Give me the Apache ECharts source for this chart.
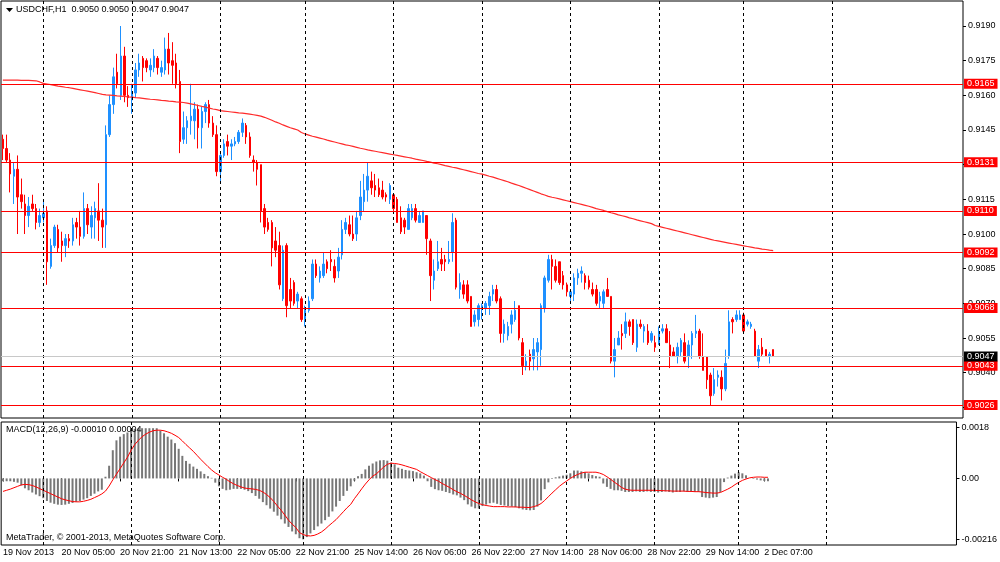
<!DOCTYPE html>
<html>
<head>
<meta charset="utf-8">
<title>USDCHF,H1</title>
<script src="https://cdn.jsdelivr.net/npm/echarts@6/dist/echarts.min.js"></script>
<style>
  html, body { margin: 0; padding: 0; background: #fff; }
  #main { width: 1000px; height: 562px; }
</style>
</head>
<body>
<div id="main"></div>
<script>
// H1 candles, pips above 0.9000: [open, close, low, high]
var candlesPips = [
  [141,137,132,143],[137,132,131,143],[132,126,118,135],[125,128,113,131],[128,116,100,134],
  [117,114,111,124],[113,108,100,117],[108,112,103,116],[113,111,110,117],[111,105,102,113],
  [105,108,103,111],[107,109,105,114],[110,88,78,112],[86,95,85,98],[95,103,94,104],
  [102,94,92,104],[97,95,88,101],[95,98,90,100],[98,97,94,100],[97,104,95,107],
  [105,103,98,107],[103,99,95,110],[99,111,98,118],[111,104,100,113],[103,108,98,112],
  [107,111,98,114],[110,106,97,122],[106,103,94,111],[104,143,94,147],[143,156,142,160],
  [156,168,152,172],[170,165,163,178],[160,177,158,190],[177,160,157,181],[160,159,155,164],
  [158,161,152,165],[161,171,159,174],[171,174,168,178],[176,172,166,177],[175,172,170,176],
  [171,173,168,176],[172,177,170,180],[176,172,169,177],[170,172,168,175],[171,180,169,185],
  [180,174,169,187],[175,173,165,183],[174,165,163,178],[166,140,135,171],[141,146,139,153],
  [146,149,139,151],[149,151,143,165],[149,154,141,157],[154,146,137,156],[146,153,137,155],
  [153,156,148,157],[156,148,146,158],[148,143,142,151],[143,127,125,147],[127,134,122,135],
  [134,139,133,141],[140,138,134,143],[138,139,132,141],[139,140,138,142],[140,144,139,145],
  [144,148,142,150],[147,142,139,148],[142,134,133,144],[132,131,127,134],[131,128,121,132],
  [130,110,105,130],[111,103,100,113],[105,102,101,107],[105,94,86,106],[97,93,90,103],
  [95,78,76,101],[72,93,71,95],[95,69,64,96],[76,71,68,81],[79,70,69,80],
  [71,74,68,75],[72,63,62,73],[63,67,60,69],[67,71,66,73],[72,87,71,89],
  [87,82,81,89],[81,84,79,86],[82,87,81,92],[88,85,83,89],[89,88,84,93],
  [86,81,79,89],[84,90,81,94],[91,102,89,106],[102,105,100,107],[104,100,99,108],
  [100,98,97,108],[100,107,97,110],[108,116,106,123],[114,119,110,126],[119,125,114,131],
  [123,120,117,127],[121,119,116,126],[120,117,116,124],[119,116,115,123],[117,116,114,118],
  [115,121,113,122],[117,111,110,117],[115,105,105,116],[107,101,100,112],[106,103,100,107],
  [102,111,102,113],[107,111,106,113],[111,106,105,113],[105,108,105,110],[105,110,105,110],
  [108,98,91,108],[97,82,71,98],[80,84,76,89],[85,88,84,97],[89,87,84,94],
  [89,88,84,91],[88,89,87,97],[92,105,88,109],[106,77,76,107],[76,79,72,83],
  [78,74,72,80],[78,71,70,80],[73,60,60,73],[62,65,60,67],[63,69,60,70],
  [68,69,63,70],[68,70,65,71],[69,73,65,75],[74,76,71,78],[76,71,70,78],
  [72,57,53,73],[57,61,53,63],[56,60,54,62],[61,65,57,67],[63,67,62,71],
  [69,55,54,69],[53,43,39,55],[43,45,41,48],[48,45,41,50],[46,50,41,55],
  [49,53,41,55],[50,69,43,70],[68,81,66,82],[80,89,79,91],[89,86,76,91],
  [86,80,79,89],[88,79,78,88],[82,78,76,84],[78,75,73,79],[73,75,71,76],
  [74,81,71,83],[81,83,78,85],[83,84,79,86],[82,79,76,83],[80,77,76,82],
  [76,74,73,79],[76,70,69,78],[71,73,68,75],[70,75,68,76],[76,73,73,81],
  [73,45,44,73],[45,50,38,55],[52,55,52,58],[57,56,50,61],[57,62,55,66],
  [62,60,56,63],[63,53,52,63],[51,61,49,63],[61,60,59,63],[58,60,53,61],
  [58,53,52,61],[54,57,53,58],[53,51,49,56],[53,57,52,60],[58,59,57,61],
  [59,53,53,61],[52,47,42,58],[49,47,47,51],[47,51,44,53],[49,54,47,55],
  [53,45,44,57],[47,52,42,54],[52,57,46,58],[57,58,55,65],[58,47,46,59],
  [47,41,41,57],[47,37,33,47],[39,30,26,40],[31,37,30,42],[38,39,34,41],
  [38,33,28,41],[33,44,32,50],[47,62,46,67],[63,62,57,64],[63,65,62,67],
  [63,65,63,67],[65,58,57,66],[61,62,60,63],[60,61,59,62],[58,47,47,59],
  [45,50,42,52],[51,48,47,55],[50,47,47,50],[47,48,44,49],[50,47,47,50]
];

// moving average, pips above 0.9000
var maPips = [
  166.6,166.6,166.6,166.6,166.6,166.5,166.5,166.5,166.4,166.3,
  165.8,165.2,164.9,164.6,164.3,164.0,163.8,163.5,163.3,163.0,
  162.7,162.4,162.1,161.8,161.5,161.2,160.8,160.4,160.2,160.1,
  160.0,159.8,159.7,159.5,159.3,159.2,159.0,158.9,158.7,158.5,
  158.3,158.2,158.0,157.8,157.7,157.5,157.4,157.2,157.1,156.9,
  156.6,156.3,156.0,155.6,155.2,154.9,154.5,154.1,153.8,153.4,
  153.2,153.0,152.8,152.6,152.4,152.3,152.1,151.9,151.6,151.3,
  151.0,150.5,149.9,149.2,148.5,147.9,147.2,146.6,146.0,145.5,
  145.0,143.9,143.3,142.8,142.3,141.9,141.5,141.1,140.6,
  140.2,139.8,139.4,139.0,138.6,138.3,137.9,137.5,137.1,136.8,
  136.4,136.1,135.8,135.5,135.2,134.9,134.6,134.3,134.0,133.7,
  133.4,133.1,132.8,132.4,132.1,131.8,131.4,131.1,130.7,130.4,
  130.0,129.6,129.3,128.9,128.6,128.2,127.8,127.4,127.0,126.6,
  126.2,125.9,125.5,125.0,124.6,124.1,123.6,123.1,122.6,122.0,
  121.5,121.0,120.4,119.8,119.2,118.6,118.0,117.4,116.9,116.3,
  115.9,115.6,115.2,114.8,114.4,114.0,113.6,113.2,112.8,112.4,
  112.0,111.5,111.0,110.6,110.2,109.7,109.2,108.8,108.3,107.9,
  107.5,107.0,106.6,106.1,105.7,105.3,104.9,104.5,103.7,
  103.3,102.9,102.5,102.1,101.7,101.3,100.9,100.5,100.1,99.7,
  99.3,98.9,98.5,98.1,97.7,97.3,97.0,96.7,96.4,96.1,
  95.8,95.5,95.2,94.9,94.6,94.3,94.0,93.8,93.5,93.3,93.0,92.8
];

// MACD(12,26,9) main histogram and signal, units of 0.00001
var macdMain = [
  -10,-10,-10,-12,-15,-25,-35,-42,-50,-57,
  -63,-70,-80,-86,-90,-93,-94,-93,-90,-87,
  -83,-80,-75,-70,-62,-54,-46,-40,6,45,
  100,135,148,157,163,170,176,178,178,178,
  178,178,178,170,160,148,138,125,105,80,
  62,52,42,34,25,16,8,2,-15,-28,
  -37,-42,-40,-37,-37,-37,-40,-45,-52,-62,
  -72,-84,-95,-107,-118,-132,-145,-160,-172,-188,
  -198,-212,-216,-208,-195,-183,-170,-160,-148,
  -136,-117,-100,-80,-62,-44,-28,-8,8,16,
  32,45,53,60,64,65,63,56,50,38,
  34,30,28,26,22,18,10,-10,-30,-38,
  -42,-44,-48,-52,-57,-60,-68,-77,-92,-100,
  -106,-107,-98,-93,-88,-86,-90,-94,-96,-98,
  -100,-102,-106,-110,-112,-113,-112,-100,-78,-38,
  -14,-2,4,7,10,13,18,28,28,25,
  22,18,12,8,6,-18,-30,-37,-42,-42,
  -44,-48,-48,-48,-46,-48,-48,-46,-48,
  -48,-50,-48,-46,-48,-50,-48,-48,-46,-48,
  -48,-48,-48,-66,-68,-70,-68,-66,-48,-13,
  3,10,17,22,18,11,0,-2,-4,-7,-9,-10
];
var macdSignal = [
  -46,-42,-38,-33,-28,-23,-21,-22,-25,-30,
  -36,-42,-48,-54,-60,-66,-72,-76,-79,-82,
  -83,-83,-81,-78,-74,-68,-62,-55,-45,-27,
  -5,15,35,55,75,100,120,135,148,157,
  164,169,171,171,169,165,160,153,145,133,
  120,108,96,82,68,55,42,30,20,12,
  4,-3,-12,-19,-25,-30,-34,-36,-37,-39,
  -42,-48,-57,-68,-82,-98,-113,-130,-148,-162,
  -174,-192,-199,-203,-204,-202,-197,-190,-180,
  -168,-157,-146,-132,-118,-104,-92,-72,-55,-37,
  -20,-5,8,16,28,40,50,54,53,51,
  48,44,40,36,32,24,17,10,3,-4,
  -10,-18,-25,-32,-40,-47,-53,-60,-68,-76,
  -83,-89,-93,-96,-98,-100,-100,-100,-100,-101,
  -101,-101,-102,-102,-103,-103,-100,-96,-89,-78,
  -65,-52,-40,-28,-18,-9,0,8,14,19,
  22,22,22,22,19,14,6,-3,-13,-22,
  -32,-38,-41,-42,-42,-42,-42,-42,-42,
  -42,-43,-43,-44,-44,-45,-45,-45,-45,-46,
  -46,-47,-47,-48,-50,-51,-52,-52,-50,-44,
  -38,-31,-22,-14,-7,-2,2,4,5,5,4,4
];

var priceTicks = [0.9025, 0.9040, 0.9055, 0.9070, 0.9085, 0.9100, 0.9115, 0.9130, 0.9145, 0.9160, 0.9175, 0.9190];
var macdTicks = [-0.00216, 0, 0.0018];
var macdTickLabels = ['-0.00216', '0.00', '0.0018'];
var levels = [0.9165, 0.9131, 0.9110, 0.9092, 0.9068, 0.9043, 0.9026];
var lastPrice = 0.9047;
// x labels every 16 bars, starting at bar 0
var timeLabels = ['19 Nov 2013', '20 Nov 05:00', '20 Nov 21:00', '21 Nov 13:00', '22 Nov 05:00',
  '22 Nov 21:00', '25 Nov 14:00', '26 Nov 06:00', '26 Nov 22:00', '27 Nov 14:00',
  '28 Nov 06:00', '28 Nov 22:00', '29 Nov 14:00', '2 Dec 07:00'];
var daySeparators = [11, 35, 59, 82, 106, 130, 154, 178, 201, 225];
var slotCount = 261; // bars + empty space on the right

var toPrice = function (p) { return +(0.9 + p / 10000).toFixed(5); };
var categories = [];
for (var i = 0; i < slotCount; i++) categories.push(String(i));
var candles = candlesPips.map(function (r) { return r.map(toPrice); });
var ma = maPips.map(toPrice);
var macdBars = macdMain.map(function (v) { return v / 100000; });
var macdSig = macdSignal.map(function (v) { return v / 100000; });

var FONT = 'Liberation Sans';
var showTick = function (idx) { return idx % 16 === 0 && idx / 16 < timeLabels.length; };

var sepLines = daySeparators.map(function (d) {
  return { xAxis: d, label: { show: false }, lineStyle: { color: '#000', type: [3, 3], width: 1 } };
});
function levelLine(v, lineColor, boxColor) {
  return {
    yAxis: v,
    lineStyle: { color: lineColor, type: 'solid', width: 1 },
    label: {
      show: true, position: 'end', distance: 1,
      formatter: v.toFixed(4),
      color: '#fff', backgroundColor: boxColor, padding: [1, 3, 0, 3],
      fontFamily: FONT, fontSize: 9
    }
  };
}
var levelLines = levels.map(function (v) { return levelLine(v, '#ff0000', '#ff0000'); });
levelLines.push(levelLine(lastPrice, '#c8c8c8', '#000'));

var chart = echarts.init(document.getElementById('main'));
var option = {
  animation: false,
  backgroundColor: '#fff',
  textStyle: { fontFamily: FONT },
  grid: [
    { left: 1, top: 1, width: 962, height: 417, show: true, borderColor: '#000', borderWidth: 1, backgroundColor: '#fff' },
    { left: 1, top: 422, width: 962, height: 123, show: true, borderColor: '#000', borderWidth: 1, backgroundColor: '#fff' }
  ],
  xAxis: [
    {
      type: 'category', gridIndex: 0, data: categories, boundaryGap: true,
      axisLine: { show: false }, axisTick: { show: false }, axisLabel: { show: false }, splitLine: { show: false }
    },
    {
      type: 'category', gridIndex: 1, data: categories, boundaryGap: true,
      axisLine: { show: false },
      axisTick: { show: true, interval: showTick, alignWithLabel: true, length: 3, lineStyle: { color: '#000' } },
      axisLabel: {
        show: true, interval: showTick, align: 'left', margin: 3,
        color: '#000', fontSize: 9, fontFamily: FONT,
        formatter: function (v, idx) { return timeLabels[idx / 16] || ''; }
      },
      splitLine: { show: false }
    }
  ],
  yAxis: [
    {
      type: 'value', gridIndex: 0, position: 'right', min: 0.902040, max: 0.920082,
      axisLine: { show: false }, splitLine: { show: false },
      axisTick: { show: true, length: 3, customValues: priceTicks, lineStyle: { color: '#000' } },
      axisLabel: {
        show: true, customValues: priceTicks, margin: 5, color: '#000', fontSize: 9, fontFamily: FONT,
        formatter: function (v) { return v.toFixed(4); }
      }
    },
    {
      type: 'value', gridIndex: 1, position: 'right', min: -0.0023605, max: 0.0020005,
      axisLine: { show: false }, splitLine: { show: false },
      axisTick: { show: true, length: 3, customValues: macdTicks, lineStyle: { color: '#000' } },
      axisLabel: {
        show: true, customValues: macdTicks, margin: 5, color: '#000', fontSize: 9, fontFamily: FONT,
        formatter: function (v) {
          var k = macdTicks.indexOf(v);
          return k >= 0 ? macdTickLabels[k] : '';
        }
      }
    }
  ],
  series: [
    {
      name: 'USDCHF', type: 'candlestick', xAxisIndex: 0, yAxisIndex: 0,
      data: candles, barWidth: 2,
      itemStyle: { color: '#1e90ff', color0: '#ff0000', borderColor: '#1e90ff', borderColor0: '#ff0000', borderWidth: 1 },
      z: 3
    },
    {
      name: 'MA', type: 'line', xAxisIndex: 0, yAxisIndex: 0,
      data: ma, symbol: 'none', smooth: false,
      lineStyle: { color: '#ff2a2a', width: 1.2 }, z: 4,
      markLine: { silent: true, precision: 5, symbol: ['none', 'none'], animation: false, data: sepLines.concat(levelLines) }
    },
    {
      name: 'MACD', type: 'bar', xAxisIndex: 1, yAxisIndex: 1,
      data: macdBars, barWidth: 2,
      itemStyle: { color: '#777777' }
    },
    {
      name: 'Signal', type: 'line', xAxisIndex: 1, yAxisIndex: 1,
      data: macdSig, symbol: 'none',
      lineStyle: { color: '#ff0000', width: 1 }, z: 4,
      markLine: { silent: true, symbol: ['none', 'none'], animation: false, data: sepLines }
    }
  ],
  graphic: [
    { type: 'polygon', shape: { points: [[6, 8], [13, 8], [9.5, 12]] }, style: { fill: '#000' }, z: 10 },
    { type: 'text', left: 16, top: 5, z: 10,
      style: { text: 'USDCHF,H1  0.9050 0.9050 0.9047 0.9047', fill: '#000', font: '9px "Liberation Sans"' } },
    { type: 'text', left: 6, top: 425, z: 10,
      style: { text: 'MACD(12,26,9) -0.00010 0.00004', fill: '#000', font: '9px "Liberation Sans"' } },
    { type: 'text', left: 6, top: 533, z: 10,
      style: { text: 'MetaTrader, \u00a9 2001-2013, MetaQuotes Software Corp.', fill: '#000', font: '9px "Liberation Sans"' } }
  ]
};
chart.setOption(option);
</script>
</body>
</html>
